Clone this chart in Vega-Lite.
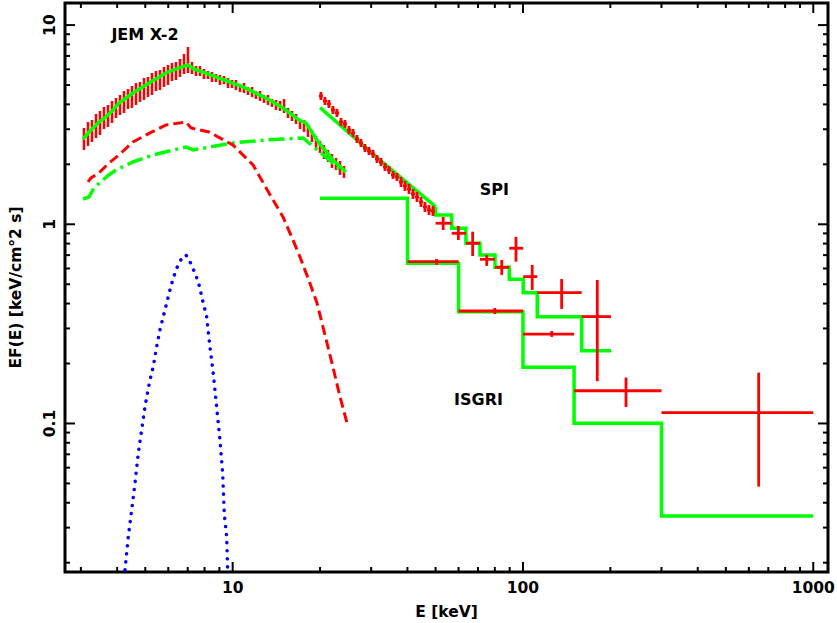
{
  "$schema": "https://vega.github.io/schema/vega-lite/v6.json",
  "width": 763,
  "height": 569,
  "autosize": {"type": "none"},
  "padding": {"left": 65, "top": 3, "right": 9, "bottom": 51},
  "background": "white",
  "config": {
    "view": {"stroke": "#000000", "strokeWidth": 3}
  },
  "datasets": {
    "xt": [
      {"v":3,"k":"mi"},{"v":4,"k":"mi"},{"v":5,"k":"mi"},{"v":6,"k":"mi"},{"v":7,"k":"mi"},{"v":8,"k":"mi"},{"v":9,"k":"mi"},
      {"v":10,"k":"ma"},
      {"v":20,"k":"mi"},{"v":30,"k":"mi"},{"v":40,"k":"mi"},{"v":50,"k":"mi"},{"v":60,"k":"mi"},{"v":70,"k":"mi"},{"v":80,"k":"mi"},{"v":90,"k":"mi"},
      {"v":100,"k":"ma"},
      {"v":200,"k":"mi"},{"v":300,"k":"mi"},{"v":400,"k":"mi"},{"v":500,"k":"mi"},{"v":600,"k":"mi"},{"v":700,"k":"mi"},{"v":800,"k":"mi"},{"v":900,"k":"mi"},
      {"v":1000,"k":"ma"}
    ],
    "yt": [
      {"v":0.02,"k":"mi"},{"v":0.03,"k":"mi"},{"v":0.04,"k":"mi"},{"v":0.05,"k":"mi"},{"v":0.06,"k":"mi"},{"v":0.07,"k":"mi"},{"v":0.08,"k":"mi"},{"v":0.09,"k":"mi"},
      {"v":0.1,"k":"ma"},
      {"v":0.2,"k":"mi"},{"v":0.3,"k":"mi"},{"v":0.4,"k":"mi"},{"v":0.5,"k":"mi"},{"v":0.6,"k":"mi"},{"v":0.7,"k":"mi"},{"v":0.8,"k":"mi"},{"v":0.9,"k":"mi"},
      {"v":1,"k":"ma"},
      {"v":2,"k":"mi"},{"v":3,"k":"mi"},{"v":4,"k":"mi"},{"v":5,"k":"mi"},{"v":6,"k":"mi"},{"v":7,"k":"mi"},{"v":8,"k":"mi"},{"v":9,"k":"mi"},
      {"v":10,"k":"ma"}
    ],
    "jem": [
      {"E":3.074,"F":2.681,"lo":2.361,"hi":3.044},
      {"E":3.174,"F":2.841,"lo":2.473,"hi":3.263},
      {"E":3.276,"F":2.941,"lo":2.589,"hi":3.339},
      {"E":3.382,"F":3.115,"lo":2.712,"hi":3.579},
      {"E":3.491,"F":3.225,"lo":2.808,"hi":3.705},
      {"E":3.604,"F":3.417,"lo":3.009,"hi":3.881},
      {"E":3.720,"F":3.497,"lo":3.080,"hi":3.972},
      {"E":3.840,"F":3.662,"lo":3.225,"hi":4.160},
      {"E":3.963,"F":3.836,"lo":3.417,"hi":4.306},
      {"E":4.091,"F":3.972,"lo":3.538,"hi":4.458},
      {"E":4.223,"F":4.112,"lo":3.620,"hi":4.669},
      {"E":4.359,"F":4.257,"lo":3.792,"hi":4.778},
      {"E":4.499,"F":4.356,"lo":3.836,"hi":4.947},
      {"E":4.644,"F":4.510,"lo":3.972,"hi":5.121},
      {"E":4.794,"F":4.615,"lo":4.112,"hi":5.181},
      {"E":4.949,"F":4.778,"lo":4.208,"hi":5.426},
      {"E":5.108,"F":4.890,"lo":4.356,"hi":5.490},
      {"E":5.273,"F":5.063,"lo":4.458,"hi":5.749},
      {"E":5.443,"F":5.241,"lo":4.669,"hi":5.884},
      {"E":5.618,"F":5.302,"lo":4.723,"hi":5.952},
      {"E":5.799,"F":5.490,"lo":4.890,"hi":6.164},
      {"E":5.986,"F":5.618,"lo":5.004,"hi":6.308},
      {"E":6.179,"F":5.816,"lo":5.241,"hi":6.455},
      {"E":6.378,"F":5.884,"lo":5.302,"hi":6.530},
      {"E":6.584,"F":6.093,"lo":5.490,"hi":6.759},
      {"E":6.796,"F":6.381,"lo":5.683,"hi":7.161},
      {"E":7.015,"F":6.683,"lo":5.749,"hi":7.766},
      {"E":7.241,"F":6.093,"lo":5.683,"hi":6.530},
      {"E":7.474,"F":5.884,"lo":5.553,"hi":6.235},
      {"E":7.715,"F":5.884,"lo":5.553,"hi":6.235},
      {"E":7.963,"F":5.683,"lo":5.364,"hi":6.023},
      {"E":8.220,"F":5.618,"lo":5.364,"hi":5.884},
      {"E":8.485,"F":5.490,"lo":5.181,"hi":5.816},
      {"E":8.758,"F":5.426,"lo":5.181,"hi":5.683},
      {"E":9.040,"F":5.302,"lo":5.004,"hi":5.618},
      {"E":9.334,"F":5.302,"lo":5.063,"hi":5.553},
      {"E":9.635,"F":5.121,"lo":4.834,"hi":5.426},
      {"E":9.945,"F":5.063,"lo":4.834,"hi":5.302},
      {"E":10.26,"F":5.004,"lo":4.723,"hi":5.302},
      {"E":10.60,"F":4.834,"lo":4.615,"hi":5.063},
      {"E":10.94,"F":4.834,"lo":4.562,"hi":5.121},
      {"E":11.29,"F":4.669,"lo":4.458,"hi":4.890},
      {"E":11.66,"F":4.615,"lo":4.356,"hi":4.890},
      {"E":12.03,"F":4.458,"lo":4.257,"hi":4.669},
      {"E":12.42,"F":4.407,"lo":4.160,"hi":4.669},
      {"E":12.82,"F":4.257,"lo":4.065,"hi":4.458},
      {"E":13.23,"F":4.208,"lo":3.972,"hi":4.458},
      {"E":13.66,"F":4.065,"lo":3.881,"hi":4.257},
      {"E":14.10,"F":3.972,"lo":3.748,"hi":4.208},
      {"E":14.56,"F":3.926,"lo":3.705,"hi":4.160},
      {"E":15.03,"F":3.926,"lo":3.620,"hi":4.257},
      {"E":15.51,"F":3.620,"lo":3.417,"hi":3.836},
      {"E":16.01,"F":3.497,"lo":3.301,"hi":3.705},
      {"E":16.53,"F":3.378,"lo":3.188,"hi":3.579},
      {"E":17.06,"F":3.188,"lo":3.009,"hi":3.378},
      {"E":17.61,"F":3.115,"lo":2.907,"hi":3.339},
      {"E":18.17,"F":2.941,"lo":2.744,"hi":3.152},
      {"E":18.76,"F":2.776,"lo":2.589,"hi":2.975},
      {"E":19.37,"F":2.589,"lo":2.416,"hi":2.776},
      {"E":19.99,"F":2.444,"lo":2.281,"hi":2.620},
      {"E":20.63,"F":2.307,"lo":2.128,"hi":2.501},
      {"E":21.30,"F":2.254,"lo":2.055,"hi":2.361},
      {"E":21.98,"F":2.079,"lo":1.917,"hi":2.254},
      {"E":22.70,"F":2.008,"lo":1.874,"hi":2.153},
      {"E":23.43,"F":1.917,"lo":1.769,"hi":2.079},
      {"E":24.18,"F":1.831,"lo":1.709,"hi":1.962}
    ],
    "pts": [
      {"E":20.14,"F":4.407,"lo":4.208,"hi":4.615,"elo":19.82,"ehi":20.46},
      {"E":20.79,"F":4.160,"lo":3.972,"hi":4.356,"elo":20.46,"ehi":21.12},
      {"E":21.46,"F":4.018,"lo":3.836,"hi":4.208,"elo":21.12,"ehi":21.80},
      {"E":22.15,"F":3.748,"lo":3.579,"hi":3.926,"elo":21.80,"ehi":22.50},
      {"E":22.87,"F":3.620,"lo":3.457,"hi":3.792,"elo":22.50,"ehi":23.24},
      {"E":23.61,"F":3.263,"lo":3.115,"hi":3.417,"elo":23.23,"ehi":23.99},
      {"E":24.37,"F":3.188,"lo":3.044,"hi":3.339,"elo":23.98,"ehi":24.76},
      {"E":25.16,"F":2.975,"lo":2.841,"hi":3.115,"elo":24.76,"ehi":25.56},
      {"E":25.97,"F":2.874,"lo":2.744,"hi":3.009,"elo":25.55,"ehi":26.39},
      {"E":26.81,"F":2.681,"lo":2.560,"hi":2.808,"elo":26.38,"ehi":27.24},
      {"E":27.67,"F":2.560,"lo":2.444,"hi":2.681,"elo":27.23,"ehi":28.11},
      {"E":28.56,"F":2.416,"lo":2.307,"hi":2.530,"elo":28.10,"ehi":29.02},
      {"E":29.49,"F":2.334,"lo":2.228,"hi":2.444,"elo":29.02,"ehi":29.96},
      {"E":30.44,"F":2.254,"lo":2.153,"hi":2.361,"elo":29.95,"ehi":30.93},
      {"E":31.42,"F":2.128,"lo":2.031,"hi":2.228,"elo":30.92,"ehi":31.92},
      {"E":32.43,"F":2.055,"lo":1.962,"hi":2.153,"elo":31.91,"ehi":32.95},
      {"E":33.48,"F":1.940,"lo":1.852,"hi":2.031,"elo":32.94,"ehi":34.02},
      {"E":34.56,"F":1.874,"lo":1.789,"hi":1.962,"elo":34.01,"ehi":35.11},
      {"E":35.67,"F":1.769,"lo":1.689,"hi":1.852,"elo":35.10,"ehi":36.24},
      {"E":36.82,"F":1.728,"lo":1.650,"hi":1.810,"elo":36.23,"ehi":37.41},
      {"E":38.01,"F":1.631,"lo":1.539,"hi":1.728,"elo":37.40,"ehi":38.62},
      {"E":39.23,"F":1.557,"lo":1.470,"hi":1.650,"elo":38.60,"ehi":39.86},
      {"E":40.50,"F":1.504,"lo":1.420,"hi":1.594,"elo":39.85,"ehi":41.15},
      {"E":41.80,"F":1.420,"lo":1.340,"hi":1.504,"elo":41.13,"ehi":42.47},
      {"E":43.15,"F":1.371,"lo":1.294,"hi":1.453,"elo":42.46,"ehi":43.84},
      {"E":44.54,"F":1.294,"lo":1.222,"hi":1.371,"elo":43.83,"ehi":45.25},
      {"E":45.97,"F":1.222,"lo":1.153,"hi":1.294,"elo":45.23,"ehi":46.71},
      {"E":47.46,"F":1.180,"lo":1.114,"hi":1.250,"elo":46.70,"ehi":48.22},
      {"E":48.99,"F":1.166,"lo":1.101,"hi":1.236,"elo":48.21,"ehi":49.77},
      {"E":53.1,"F":1.012,"lo":0.936,"hi":1.088,"elo":50,"ehi":56.8},
      {"E":59.9,"F":0.901,"lo":0.834,"hi":0.981,"elo":56.8,"ehi":63.6},
      {"E":67.1,"F":0.803,"lo":0.693,"hi":0.918,"elo":63.6,"ehi":71.1},
      {"E":75.0,"F":0.667,"lo":0.618,"hi":0.701,"elo":71.1,"ehi":80.1},
      {"E":84.5,"F":0.608,"lo":0.557,"hi":0.662,"elo":80.1,"ehi":89.7},
      {"E":94.6,"F":0.758,"lo":0.649,"hi":0.864,"elo":89.7,"ehi":100.2},
      {"E":107.6,"F":0.546,"lo":0.468,"hi":0.625,"elo":100.2,"ehi":112},
      {"E":135.9,"F":0.454,"lo":0.376,"hi":0.531,"elo":112,"ehi":159.3},
      {"E":180.3,"F":0.344,"lo":0.163,"hi":0.525,"elo":159.3,"ehi":201},
      {"E":50.4,"F":0.649,"lo":0.625,"hi":0.670,"elo":40,"ehi":60},
      {"E":80.0,"F":0.367,"lo":0.3545,"hi":0.380,"elo":60,"ehi":100},
      {"E":125.6,"F":0.281,"lo":0.272,"hi":0.291,"elo":100,"ehi":150},
      {"E":226.4,"F":0.146,"lo":0.121,"hi":0.170,"elo":150,"ehi":300},
      {"E":648.6,"F":0.1133,"lo":0.0482,"hi":0.180,"elo":300,"ehi":1000}
    ],
    "lines": [
      {"s":"jm","i":0,"E":3.050,"F":2.681},
      {"s":"jm","i":1,"E":3.250,"F":2.975},
      {"s":"jm","i":2,"E":3.463,"F":3.263},
      {"s":"jm","i":3,"E":3.660,"F":3.457},
      {"s":"jm","i":4,"E":3.869,"F":3.748},
      {"s":"jm","i":5,"E":4.058,"F":4.065},
      {"s":"jm","i":6,"E":4.535,"F":4.562},
      {"s":"jm","i":7,"E":5.149,"F":5.121},
      {"s":"jm","i":8,"E":5.891,"F":5.749},
      {"s":"jm","i":9,"E":6.531,"F":6.093},
      {"s":"jm","i":10,"E":7.015,"F":6.308},
      {"s":"jm","i":11,"E":7.184,"F":6.164},
      {"s":"jm","i":12,"E":7.357,"F":6.023},
      {"s":"jm","i":13,"E":8.757,"F":5.490},
      {"s":"jm","i":14,"E":10.85,"F":4.890},
      {"s":"jm","i":15,"E":13.02,"F":4.306},
      {"s":"jm","i":16,"E":14.91,"F":3.836},
      {"s":"jm","i":17,"E":16.92,"F":3.339},
      {"s":"jm","i":18,"E":17.88,"F":3.225},
      {"s":"jm","i":19,"E":19.83,"F":2.560},
      {"s":"jm","i":20,"E":22.15,"F":2.103},
      {"s":"jm","i":21,"E":24.56,"F":1.831},
      {"s":"jc","i":22,"E":3.050,"F":1.340},
      {"s":"jc","i":23,"E":3.199,"F":1.371},
      {"s":"jc","i":24,"E":3.328,"F":1.522},
      {"s":"jc","i":25,"E":3.574,"F":1.669},
      {"s":"jc","i":26,"E":3.748,"F":1.769},
      {"s":"jc","i":27,"E":3.962,"F":1.874},
      {"s":"jc","i":28,"E":4.535,"F":2.055},
      {"s":"jc","i":29,"E":5.314,"F":2.228},
      {"s":"jc","i":30,"E":6.904,"F":2.444},
      {"s":"jc","i":31,"E":7.298,"F":2.361},
      {"s":"jc","i":32,"E":10.02,"F":2.560},
      {"s":"jc","i":33,"E":13.02,"F":2.650},
      {"s":"jc","i":34,"E":17.47,"F":2.712},
      {"s":"jc","i":35,"E":22.15,"F":2.031},
      {"s":"jc","i":36,"E":23.99,"F":1.831},
      {"s":"bb","i":37,"E":3.174,"F":1.631},
      {"s":"bb","i":38,"E":3.250,"F":1.709},
      {"s":"bb","i":39,"E":3.463,"F":1.810},
      {"s":"bb","i":40,"E":3.748,"F":2.031},
      {"s":"bb","i":41,"E":4.058,"F":2.228},
      {"s":"bb","i":42,"E":4.535,"F":2.589},
      {"s":"bb","i":43,"E":5.190,"F":2.874},
      {"s":"bb","i":44,"E":5.891,"F":3.152},
      {"s":"bb","i":45,"E":6.904,"F":3.263},
      {"s":"bb","i":46,"E":7.184,"F":3.044},
      {"s":"bb","i":47,"E":8.285,"F":2.907},
      {"s":"bb","i":48,"E":10.02,"F":2.501},
      {"s":"bb","i":49,"E":11.75,"F":1.985},
      {"s":"bb","i":50,"E":13.34,"F":1.436},
      {"s":"bb","i":51,"E":14.91,"F":1.088},
      {"s":"bb","i":52,"E":16.13,"F":0.834},
      {"s":"bb","i":53,"E":17.06,"F":0.685},
      {"s":"bb","i":54,"E":18.17,"F":0.538},
      {"s":"bb","i":55,"E":19.52,"F":0.403},
      {"s":"bb","i":56,"E":20.47,"F":0.305},
      {"s":"bb","i":57,"E":22.15,"F":0.192},
      {"s":"bb","i":58,"E":23.43,"F":0.136},
      {"s":"bb","i":59,"E":24.76,"F":0.1006},
      {"s":"ga","i":60,"E":4.256,"F":0.01839},
      {"s":"ga","i":61,"E":4.369,"F":0.02703},
      {"s":"ga","i":62,"E":4.488,"F":0.03679},
      {"s":"ga","i":63,"E":4.607,"F":0.0501},
      {"s":"ga","i":64,"E":4.729,"F":0.07086},
      {"s":"ga","i":65,"E":4.858,"F":0.09278},
      {"s":"ga","i":66,"E":4.987,"F":0.1214},
      {"s":"ga","i":67,"E":5.190,"F":0.1654},
      {"s":"ga","i":68,"E":5.327,"F":0.1929},
      {"s":"ga","i":69,"E":5.472,"F":0.2429},
      {"s":"ga","i":70,"E":5.617,"F":0.2947},
      {"s":"ga","i":71,"E":5.767,"F":0.3438},
      {"s":"ga","i":72,"E":5.924,"F":0.4013},
      {"s":"ga","i":73,"E":6.081,"F":0.468},
      {"s":"ga","i":74,"E":6.242,"F":0.5358},
      {"s":"ga","i":75,"E":6.413,"F":0.6013},
      {"s":"ga","i":76,"E":6.674,"F":0.6754},
      {"s":"ga","i":77,"E":6.904,"F":0.7014},
      {"s":"ga","i":78,"E":7.224,"F":0.6248},
      {"s":"ga","i":79,"E":7.415,"F":0.5675},
      {"s":"ga","i":80,"E":7.612,"F":0.5151},
      {"s":"ga","i":81,"E":7.921,"F":0.4013},
      {"s":"ga","i":82,"E":8.135,"F":0.3438},
      {"s":"ga","i":83,"E":8.350,"F":0.2429},
      {"s":"ga","i":84,"E":8.572,"F":0.1787},
      {"s":"ga","i":85,"E":8.806,"F":0.1214},
      {"s":"ga","i":86,"E":9.040,"F":0.08264},
      {"s":"ga","i":87,"E":9.236,"F":0.05623},
      {"s":"ga","i":88,"E":9.354,"F":0.03541},
      {"s":"ga","i":89,"E":9.535,"F":0.02703},
      {"s":"ga","i":90,"E":9.610,"F":0.01839},
      {"s":"sl","i":91,"E":20,"F":3.849},
      {"s":"sl","i":92,"E":32.17,"F":2.103},
      {"s":"sl","i":93,"E":50,"F":1.226},
      {"s":"ss","i":94,"E":50,"F":1.226},
      {"s":"ss","i":95,"E":50,"F":1.1135},
      {"s":"ss","i":96,"E":56.8,"F":0.9549},
      {"s":"ss","i":97,"E":63.6,"F":0.803},
      {"s":"ss","i":98,"E":71.1,"F":0.7013},
      {"s":"ss","i":99,"E":80.1,"F":0.6083},
      {"s":"ss","i":100,"E":89.7,"F":0.5296},
      {"s":"ss","i":101,"E":100.2,"F":0.4536},
      {"s":"ss","i":102,"E":112,"F":0.3438},
      {"s":"ss","i":103,"E":159.3,"F":0.232},
      {"s":"ss","i":104,"E":201,"F":0.232},
      {"s":"is","i":105,"E":20,"F":1.351},
      {"s":"is","i":106,"E":40,"F":0.637},
      {"s":"is","i":107,"E":60,"F":0.364},
      {"s":"is","i":108,"E":100,"F":0.1915},
      {"s":"is","i":109,"E":150,"F":0.1002},
      {"s":"is","i":110,"E":300,"F":0.0343},
      {"s":"is","i":111,"E":1000,"F":0.0343}
    ],
    "labels": [
      {"E":4.988,"F":8.92,"t":"JEM X-2"},
      {"E":79.7,"F":1.487,"t":"SPI"},
      {"E":70.26,"F":0.1305,"t":"ISGRI"}
    ]
  },
  "layer": [
    {
      "data": {"name": "jem"},
      "mark": {"type": "rule", "color": "#ff0000", "strokeWidth": 2.5},
      "encoding": {
        "x": {"field": "E", "type": "quantitative", "scale": {"type": "log", "domain": [2.645, 1124], "nice": false}, "axis": null},
        "y": {"field": "lo", "type": "quantitative", "scale": {"type": "log", "domain": [0.01796, 12.91], "nice": false}, "axis": null},
        "y2": {"field": "hi"}
      }
    },
    {
      "data": {"name": "lines"},
      "transform": [{"filter": {"field": "s", "oneOf": ["jm", "sl"]}}],
      "mark": {"type": "line", "color": "#00ff00", "strokeWidth": 3.5},
      "encoding": {
        "x": {"field": "E", "type": "quantitative", "scale": {"type": "log", "domain": [2.645, 1124], "nice": false}, "axis": null},
        "y": {"field": "F", "type": "quantitative", "scale": {"type": "log", "domain": [0.01796, 12.91], "nice": false}, "axis": null},
        "detail": {"field": "s"},
        "order": {"field": "i"}
      }
    },
    {
      "data": {"name": "lines"},
      "transform": [{"filter": {"field": "s", "equal": "jc"}}],
      "mark": {"type": "line", "color": "#00ff00", "strokeWidth": 3.5, "strokeDash": [16, 5, 3, 5]},
      "encoding": {
        "x": {"field": "E", "type": "quantitative", "scale": {"type": "log", "domain": [2.645, 1124], "nice": false}, "axis": null},
        "y": {"field": "F", "type": "quantitative", "scale": {"type": "log", "domain": [0.01796, 12.91], "nice": false}, "axis": null},
        "order": {"field": "i"}
      }
    },
    {
      "data": {"name": "lines"},
      "transform": [{"filter": {"field": "s", "equal": "bb"}}],
      "mark": {"type": "line", "color": "#ff0000", "strokeWidth": 3, "strokeDash": [10, 5]},
      "encoding": {
        "x": {"field": "E", "type": "quantitative", "scale": {"type": "log", "domain": [2.645, 1124], "nice": false}, "axis": null},
        "y": {"field": "F", "type": "quantitative", "scale": {"type": "log", "domain": [0.01796, 12.91], "nice": false}, "axis": null},
        "order": {"field": "i"}
      }
    },
    {
      "data": {"name": "lines"},
      "transform": [{"filter": {"field": "s", "equal": "ga"}}],
      "mark": {"type": "line", "color": "#0000ff", "strokeWidth": 3.5, "strokeDash": [0.1, 8], "strokeCap": "round", "clip": true},
      "encoding": {
        "x": {"field": "E", "type": "quantitative", "scale": {"type": "log", "domain": [2.645, 1124], "nice": false}, "axis": null},
        "y": {"field": "F", "type": "quantitative", "scale": {"type": "log", "domain": [0.01796, 12.91], "nice": false}, "axis": null},
        "order": {"field": "i"}
      }
    },
    {
      "data": {"name": "lines"},
      "transform": [{"filter": {"field": "s", "oneOf": ["ss", "is"]}}],
      "mark": {"type": "line", "color": "#00ff00", "strokeWidth": 3.5, "interpolate": "step-after"},
      "encoding": {
        "x": {"field": "E", "type": "quantitative", "scale": {"type": "log", "domain": [2.645, 1124], "nice": false}, "axis": null},
        "y": {"field": "F", "type": "quantitative", "scale": {"type": "log", "domain": [0.01796, 12.91], "nice": false}, "axis": null},
        "detail": {"field": "s"},
        "order": {"field": "i"}
      }
    },
    {
      "data": {"name": "pts"},
      "mark": {"type": "rule", "color": "#ff0000", "strokeWidth": 2.8},
      "encoding": {
        "x": {"field": "E", "type": "quantitative", "scale": {"type": "log", "domain": [2.645, 1124], "nice": false}, "axis": null},
        "y": {"field": "lo", "type": "quantitative", "scale": {"type": "log", "domain": [0.01796, 12.91], "nice": false}, "axis": null},
        "y2": {"field": "hi"}
      }
    },
    {
      "data": {"name": "pts"},
      "mark": {"type": "rule", "color": "#ff0000", "strokeWidth": 2.8},
      "encoding": {
        "x": {"field": "elo", "type": "quantitative", "scale": {"type": "log", "domain": [2.645, 1124], "nice": false}, "axis": null},
        "x2": {"field": "ehi"},
        "y": {"field": "F", "type": "quantitative", "scale": {"type": "log", "domain": [0.01796, 12.91], "nice": false}, "axis": null}
      }
    },
    {
      "data": {"name": "labels"},
      "mark": {"type": "text", "font": "DejaVu Sans", "fontWeight": "bold", "fontSize": 16, "align": "center", "baseline": "middle", "color": "#000000"},
      "encoding": {
        "x": {"field": "E", "type": "quantitative", "scale": {"type": "log", "domain": [2.645, 1124], "nice": false}, "axis": null},
        "y": {"field": "F", "type": "quantitative", "scale": {"type": "log", "domain": [0.01796, 12.91], "nice": false}, "axis": null},
        "text": {"field": "t"}
      }
    },
    {
      "data": {"name": "xt"},
      "mark": {"type": "tick", "orient": "vertical", "thickness": 2, "color": "#000000", "opacity": 1, "clip": true},
      "encoding": {
        "x": {"field": "v", "type": "quantitative", "scale": {"type": "log", "domain": [2.645, 1124], "nice": false}, "axis": null},
        "y": {"datum": 0.01796, "type": "quantitative", "scale": {"type": "log", "domain": [0.01796, 12.91], "nice": false}, "axis": null},
        "size": {"field": "k", "type": "ordinal", "scale": {"domain": ["ma", "mi"], "range": [20, 10]}, "legend": null}
      }
    },
    {
      "data": {"name": "xt"},
      "mark": {"type": "tick", "orient": "vertical", "thickness": 2, "color": "#000000", "opacity": 1, "clip": true},
      "encoding": {
        "x": {"field": "v", "type": "quantitative", "scale": {"type": "log", "domain": [2.645, 1124], "nice": false}, "axis": null},
        "y": {"datum": 12.91, "type": "quantitative", "scale": {"type": "log", "domain": [0.01796, 12.91], "nice": false}, "axis": null},
        "size": {"field": "k", "type": "ordinal", "scale": {"domain": ["ma", "mi"], "range": [20, 10]}, "legend": null}
      }
    },
    {
      "data": {"name": "yt"},
      "mark": {"type": "tick", "orient": "horizontal", "thickness": 2, "color": "#000000", "opacity": 1, "clip": true},
      "encoding": {
        "y": {"field": "v", "type": "quantitative", "scale": {"type": "log", "domain": [0.01796, 12.91], "nice": false}, "axis": null},
        "x": {"datum": 2.645, "type": "quantitative", "scale": {"type": "log", "domain": [2.645, 1124], "nice": false}, "axis": null},
        "size": {"field": "k", "type": "ordinal", "scale": {"domain": ["ma", "mi"], "range": [20, 10]}, "legend": null}
      }
    },
    {
      "data": {"name": "yt"},
      "mark": {"type": "tick", "orient": "horizontal", "thickness": 2, "color": "#000000", "opacity": 1, "clip": true},
      "encoding": {
        "y": {"field": "v", "type": "quantitative", "scale": {"type": "log", "domain": [0.01796, 12.91], "nice": false}, "axis": null},
        "x": {"datum": 1124, "type": "quantitative", "scale": {"type": "log", "domain": [2.645, 1124], "nice": false}, "axis": null},
        "size": {"field": "k", "type": "ordinal", "scale": {"domain": ["ma", "mi"], "range": [20, 10]}, "legend": null}
      }
    },
    {
      "data": {"name": "xt"},
      "transform": [{"filter": {"field": "k", "equal": "ma"}}],
      "mark": {"type": "text", "font": "DejaVu Sans", "fontWeight": "bold", "fontSize": 15.5, "align": "center", "baseline": "top", "dy": 9, "color": "#000000"},
      "encoding": {
        "x": {"field": "v", "type": "quantitative", "scale": {"type": "log", "domain": [2.645, 1124], "nice": false}, "axis": null},
        "y": {"datum": 0.01796, "type": "quantitative", "scale": {"type": "log", "domain": [0.01796, 12.91], "nice": false}, "axis": null},
        "text": {"field": "v", "type": "quantitative", "format": "~g"}
      }
    },
    {
      "data": {"name": "yt"},
      "transform": [{"filter": {"field": "k", "equal": "ma"}}],
      "mark": {"type": "text", "font": "DejaVu Sans", "fontWeight": "bold", "fontSize": 15.5, "align": "center", "baseline": "alphabetic", "angle": 270, "dy": -10, "color": "#000000"},
      "encoding": {
        "y": {"field": "v", "type": "quantitative", "scale": {"type": "log", "domain": [0.01796, 12.91], "nice": false}, "axis": null},
        "x": {"datum": 2.645, "type": "quantitative", "scale": {"type": "log", "domain": [2.645, 1124], "nice": false}, "axis": null},
        "text": {"field": "v", "type": "quantitative", "format": "~g"}
      }
    },
    {
      "data": {"values": [{"t": "E [keV]"}]},
      "mark": {"type": "text", "font": "DejaVu Sans", "fontWeight": "bold", "fontSize": 15.5, "align": "center", "baseline": "alphabetic", "dy": 45, "color": "#000000"},
      "encoding": {
        "x": {"datum": 54.53, "type": "quantitative", "scale": {"type": "log", "domain": [2.645, 1124], "nice": false}, "axis": null},
        "y": {"datum": 0.01796, "type": "quantitative", "scale": {"type": "log", "domain": [0.01796, 12.91], "nice": false}, "axis": null},
        "text": {"field": "t"}
      }
    },
    {
      "data": {"values": [{"t": "EF(E) [keV/cm°2 s]"}]},
      "mark": {"type": "text", "font": "DejaVu Sans", "fontWeight": "bold", "fontSize": 15.5, "align": "center", "baseline": "alphabetic", "angle": 270, "dy": -44, "color": "#000000"},
      "encoding": {
        "x": {"datum": 2.645, "type": "quantitative", "scale": {"type": "log", "domain": [2.645, 1124], "nice": false}, "axis": null},
        "y": {"datum": 0.4815, "type": "quantitative", "scale": {"type": "log", "domain": [0.01796, 12.91], "nice": false}, "axis": null},
        "text": {"field": "t"}
      }
    }
  ]
}
